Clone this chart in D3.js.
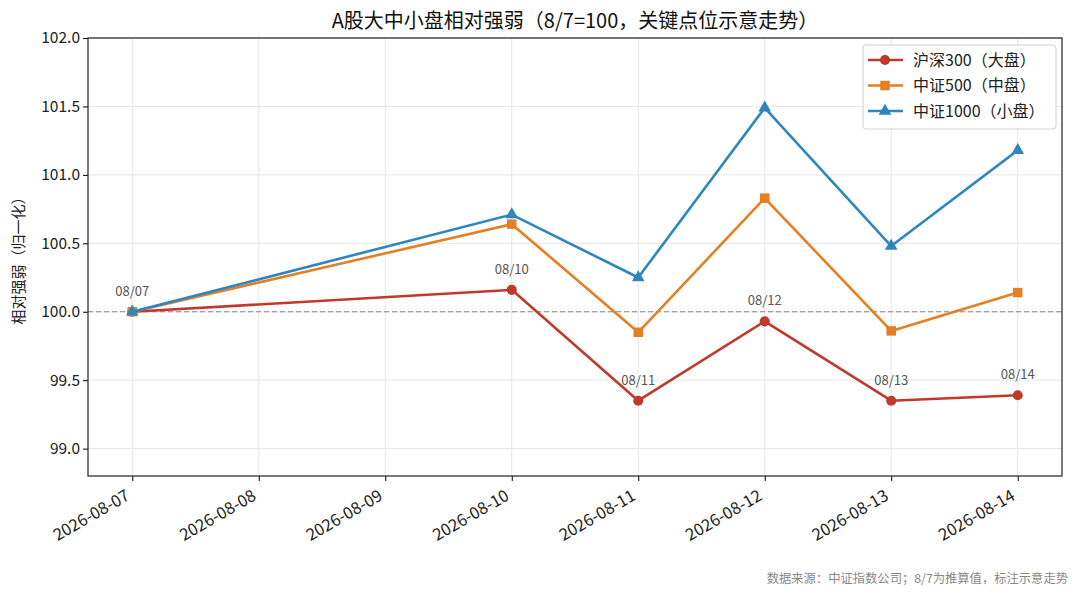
<!DOCTYPE html>
<html>
<head>
<meta charset="utf-8">
<script src="https://cdn.jsdelivr.net/npm/d3@7"></script>
<style>
  body { margin: 0; background: #fff; }
  svg text { font-family: "Noto Sans CJK SC", "Noto Sans", sans-serif; }
</style>
</head>
<body>
<svg id="chart" width="1080" height="597"></svg>
<script>
const dates = ["2026-08-07", "2026-08-10", "2026-08-11", "2026-08-12", "2026-08-13", "2026-08-14"];
const hs300 = [100.0, 100.16, 99.35, 99.93, 99.35, 99.39];
const zz500 = [100.0, 100.64, 99.85, 100.83, 99.86, 100.14];
const zz1000 = [100.0, 100.71, 100.25, 101.49, 100.48, 101.18];
const seriesNames = ["沪深300（大盘）", "中证500（中盘）", "中证1000（小盘）"];
const annoLabels = ["08/07", "08/10", "08/11", "08/12", "08/13", "08/14"];
const yTicks = [99.0, 99.5, 100.0, 100.5, 101.0, 101.5, 102.0];

const parse = d3.timeParse("%Y-%m-%d");
const colors = ["#c0392b", "#e67e22", "#2e86c1"];
const symbols = [d3.symbolCircle, d3.symbolSquare, d3.symbolTriangle];
const symSize = [80, 90, 70];

const margin = { top: 38, right: 18, bottom: 121, left: 88 };
const W = 1080, H = 597;
const w = W - margin.left - margin.right;
const h = H - margin.top - margin.bottom;

const svg = d3.select("#chart");
const chart = svg.append("g").attr("transform", `translate(${margin.left},${margin.top})`);

const day = 24 * 3600 * 1000;
const x0 = parse(dates[0]), x1 = parse(dates[dates.length - 1]);
const pad = (x1 - x0) * 0.05;
const xScale = d3.scaleTime()
  .domain([new Date(+x0 - pad), new Date(+x1 + pad)])
  .range([0, w]);
const yScale = d3.scaleLinear().domain([98.8, 102.0]).range([h, 0]);

const allDays = d3.timeDay.range(x0, new Date(+x1 + day));

// grid
chart.append("g").selectAll("line").data(allDays).enter().append("line")
  .attr("x1", d => xScale(d)).attr("x2", d => xScale(d))
  .attr("y1", 0).attr("y2", h)
  .attr("stroke", "#e6e6e6").attr("stroke-width", 1);
chart.append("g").selectAll("line").data(yTicks).enter().append("line")
  .attr("x1", 0).attr("x2", w)
  .attr("y1", d => yScale(d)).attr("y2", d => yScale(d))
  .attr("stroke", "#e6e6e6").attr("stroke-width", 1);

// baseline
chart.append("line")
  .attr("x1", 0).attr("x2", w)
  .attr("y1", yScale(100)).attr("y2", yScale(100))
  .attr("stroke", "#888").attr("stroke-width", 1.2)
  .attr("stroke-dasharray", "5,3");

// axes
const xAxis = chart.append("g").attr("transform", `translate(0,${h})`)
  .call(d3.axisBottom(xScale).tickValues(allDays).tickFormat(d3.timeFormat("%Y-%m-%d")).tickSizeOuter(0).tickSize(5));
xAxis.selectAll("text")
  .attr("font-size", 16.5).attr("fill", "#222")
  .attr("text-anchor", "end")
  .attr("x", 0).attr("y", 0).attr("dy", 0)
  .attr("transform", "translate(-2,23) rotate(-30)");
xAxis.select(".domain").remove();

const yAxis = chart.append("g")
  .call(d3.axisLeft(yScale).tickValues(yTicks).tickFormat(d3.format(".1f")).tickSizeOuter(0).tickSize(5));
yAxis.selectAll("text").attr("font-size", 15.5).attr("fill", "#222");
yAxis.select(".domain").remove();

chart.append("rect").attr("width", w).attr("height", h)
  .attr("fill", "none").attr("stroke", "#222").attr("stroke-width", 1.2);

// lines
const seriesData = [hs300, zz500, zz1000];
const line = d3.line().x((d, i) => xScale(parse(dates[i]))).y(d => yScale(d));
seriesData.forEach((vals, k) => {
  chart.append("path").datum(vals)
    .attr("fill", "none").attr("stroke", colors[k]).attr("stroke-width", 2.6)
    .attr("stroke-linejoin", "round")
    .attr("d", line);
  chart.append("g").selectAll("path").data(vals).enter().append("path")
    .attr("d", d3.symbol().type(symbols[k]).size(symSize[k]))
    .attr("transform", (d, i) => `translate(${xScale(parse(dates[i]))},${yScale(d)})`)
    .attr("fill", colors[k]);
});

// annotations
chart.append("g").selectAll("text").data(hs300).enter().append("text")
  .attr("x", (d, i) => xScale(parse(dates[i])))
  .attr("y", d => yScale(d) - 16)
  .attr("text-anchor", "middle")
  .attr("font-size", 13).attr("fill", "#555")
  .text((d, i) => annoLabels[i]);

// title
svg.append("text").attr("x", margin.left + w / 2).attr("y", 28)
  .attr("text-anchor", "middle").attr("font-size", 20).attr("fill", "#111")
  .text("A股大中小盘相对强弱（8/7=100，关键点位示意走势）");

// y label
svg.append("text")
  .attr("transform", `translate(24,${margin.top + h / 2}) rotate(-90)`)
  .attr("text-anchor", "middle").attr("font-size", 15).attr("fill", "#222")
  .text("相对强弱（归一化）");

// legend
const lg = chart.append("g").attr("transform", `translate(${w - 199},7)`);
lg.append("rect").attr("width", 193).attr("height", 84).attr("rx", 3)
  .attr("fill", "#fff").attr("fill-opacity", 0.85)
  .attr("stroke", "#d0d0d0");
seriesNames.forEach((name, k) => {
  const yy = 15 + k * 25.5;
  lg.append("line").attr("x1", 5).attr("x2", 40).attr("y1", yy).attr("y2", yy)
    .attr("stroke", colors[k]).attr("stroke-width", 2.6);
  lg.append("path").attr("d", d3.symbol().type(symbols[k]).size(symSize[k]))
    .attr("transform", `translate(22,${yy})`).attr("fill", colors[k]);
  lg.append("text").attr("x", 50).attr("y", yy).attr("dy", "0.35em")
    .attr("font-size", 16).attr("fill", "#222").text(name);
});

// footer
svg.append("text").attr("x", 1068).attr("y", 583)
  .attr("text-anchor", "end").attr("font-size", 12.3).attr("fill", "#888")
  .text("数据来源：中证指数公司；8/7为推算值，标注示意走势");
</script>
</body>
</html>
